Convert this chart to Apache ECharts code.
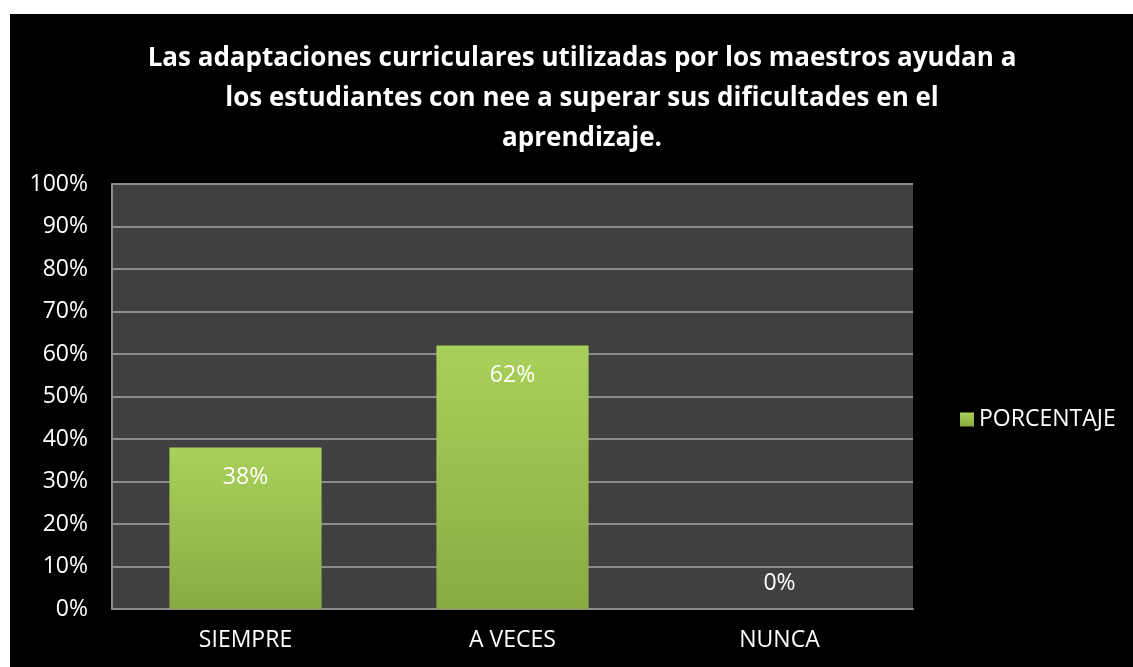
<!DOCTYPE html>
<html><head><meta charset="utf-8">
<script src="https://cdn.jsdelivr.net/npm/echarts@6/dist/echarts.min.js"></script>
<style>
html,body{margin:0;padding:0;background:#fff;width:1133px;height:667px;overflow:hidden}
#c{position:absolute;left:10px;top:14px;width:1123px;height:653px;background:#000}
</style></head><body>
<div id="c"></div>
<script>
var titleText = 'Las adaptaciones curriculares utilizadas por los maestros ayudan a\nlos estudiantes con nee a superar sus dificultades en el\naprendizaje.';
var categories = ['SIEMPRE', 'A VECES', 'NUNCA'];
var seriesName = 'PORCENTAJE';
var values = [38, 62, 0];
var yTicks = [0, 10, 20, 30, 40, 50, 60, 70, 80, 90, 100];

var chart = echarts.init(document.getElementById('c'));
var font = '"Open Sans", Lato, sans-serif';
var barColor = new echarts.graphic.LinearGradient(0, 0, 0, 1, [
  {offset: 0, color: '#a9d05a'},
  {offset: 1, color: '#89ab42'}
]);
chart.setOption({
  backgroundColor: '#000',
  animation: false,
  title: {
    text: titleText, left: 567, top: 20, textAlign: 'center',
    textStyle: {color: '#fff', fontFamily: font, fontWeight: 'bold', fontSize: 26, lineHeight: 40}
  },
  legend: {
    data: [seriesName], left: 945, top: 389, orient: 'vertical',
    itemWidth: 14, itemHeight: 14, itemGap: 8,
    icon: 'rect',
    textStyle: {color: '#fff', fontFamily: font, fontSize: 23}
  },
  grid: {left: 102, top: 170, right: 220, bottom: 58, show: true, backgroundColor: '#404040', borderWidth: 0},
  xAxis: {
    type: 'category', data: categories,
    axisLine: {lineStyle: {color: '#8c8c8c', width: 2}},
    axisTick: {show: false},
    axisLabel: {color: '#fff', fontFamily: font, fontSize: 23, margin: 20}
  },
  yAxis: {
    type: 'value', min: yTicks[0], max: yTicks[yTicks.length - 1], interval: 10,
    axisLine: {show: true, lineStyle: {color: '#8c8c8c', width: 2}},
    axisTick: {show: false},
    splitLine: {lineStyle: {color: '#8c8c8c', width: 2}},
    axisLabel: {color: '#fff', fontFamily: font, fontSize: 23, margin: 24, formatter: '{value}%'}
  },
  series: [{
    name: seriesName, type: 'bar', barWidth: '57%',
    data: values.map(function (v) {
      return {
        value: v,
        label: v === 0 ? {position: 'top', distance: 14} : {position: 'insideTop', distance: 18}
      };
    }),
    itemStyle: {color: barColor},
    label: {show: true, color: '#fff', fontFamily: font, fontSize: 23, formatter: '{c}%'}
  }]
});
</script></body></html>
